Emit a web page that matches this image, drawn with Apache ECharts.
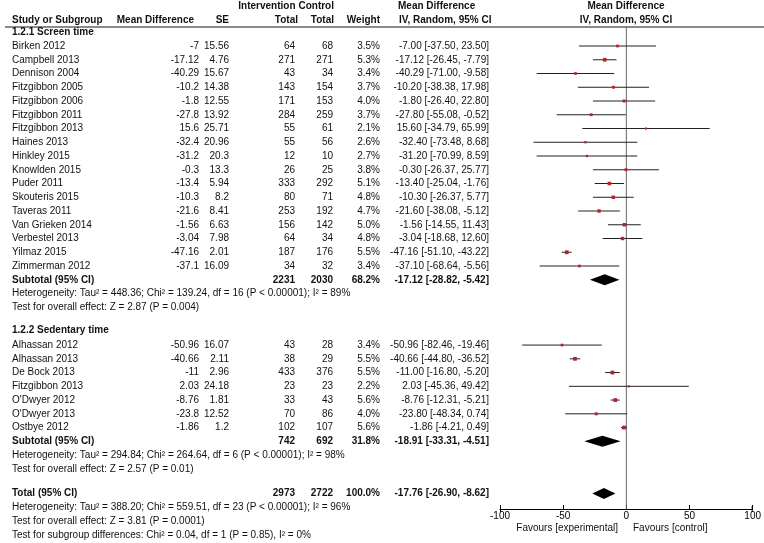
<!DOCTYPE html>
<html><head><meta charset="utf-8">
<script src="https://cdn.jsdelivr.net/npm/echarts@6/dist/echarts.min.js"></script>
<style>html,body{margin:0;padding:0;background:#fff}#c{width:764px;height:543px}</style>
</head><body><div id="c"></div>
<script>
// ---------- DATA ----------
const g1Name = '1.2.1 Screen time';
const g1Studies = ['Birken 2012','Campbell 2013','Dennison 2004','Fitzgibbon 2005','Fitzgibbon 2006','Fitzgibbon 2011','Fitzgibbon 2013','Haines 2013','Hinkley 2015','Knowlden 2015','Puder 2011','Skouteris 2015','Taveras 2011','Van Grieken 2014','Verbestel 2013','Yilmaz 2015','Zimmerman 2012'];
const g1MD = [-7,-17.12,-40.29,-10.2,-1.8,-27.8,15.6,-32.4,-31.2,-0.3,-13.4,-10.3,-21.6,-1.56,-3.04,-47.16,-37.1];
const g1SE = [15.56,4.76,15.67,14.38,12.55,13.92,25.71,20.96,20.3,13.3,5.94,8.2,8.41,6.63,7.98,2.01,16.09];
const g1NInt = [64,271,43,143,171,284,55,55,12,26,333,80,253,156,64,187,34];
const g1NCtl = [68,271,34,154,153,259,61,56,10,25,292,71,192,142,34,176,32];
const g1Weight = [3.5,5.3,3.4,3.7,4.0,3.7,2.1,2.6,2.7,3.8,5.1,4.8,4.7,5.0,4.8,5.5,3.4];
const g1Lo = [-37.50,-26.45,-71.00,-38.38,-26.40,-55.08,-34.79,-73.48,-70.99,-26.37,-25.04,-26.37,-38.08,-14.55,-18.68,-51.10,-68.64];
const g1Hi = [23.50,-7.79,-9.58,17.98,22.80,-0.52,65.99,8.68,8.59,25.77,-1.76,5.77,-5.12,11.43,12.60,-43.22,-5.56];
const g1SubTotals = [2231, 2030, 68.2];
const g1SubCI = [-17.12, -28.82, -5.42];
const g1Het = 'Heterogeneity: Tau\u00b2 = 448.36; Chi\u00b2 = 139.24, df = 16 (P < 0.00001); I\u00b2 = 89%';
const g1Test = 'Test for overall effect: Z = 2.87 (P = 0.004)';

const g2Name = '1.2.2 Sedentary time';
const g2Studies = ['Alhassan 2012','Alhassan 2013','De Bock 2013','Fitzgibbon 2013',"O'Dwyer 2012","O'Dwyer 2013",'Ostbye 2012'];
const g2MD = [-50.96,-40.66,-11,2.03,-8.76,-23.8,-1.86];
const g2SE = [16.07,2.11,2.96,24.18,1.81,12.52,1.2];
const g2NInt = [43,38,433,23,33,70,102];
const g2NCtl = [28,29,376,23,43,86,107];
const g2Weight = [3.4,5.5,5.5,2.2,5.6,4.0,5.6];
const g2Lo = [-82.46,-44.80,-16.80,-45.36,-12.31,-48.34,-4.21];
const g2Hi = [-19.46,-36.52,-5.20,49.42,-5.21,0.74,0.49];
const g2SubTotals = [742, 692, 31.8];
const g2SubCI = [-18.91, -33.31, -4.51];
const g2Het = 'Heterogeneity: Tau\u00b2 = 294.84; Chi\u00b2 = 264.64, df = 6 (P < 0.00001); I\u00b2 = 98%';
const g2Test = 'Test for overall effect: Z = 2.57 (P = 0.01)';

const totTotals = [2973, 2722, 100.0];
const totCI = [-17.76, -26.90, -8.62];
const totHet = 'Heterogeneity: Tau\u00b2 = 388.20; Chi\u00b2 = 559.51, df = 23 (P < 0.00001); I\u00b2 = 96%';
const totTest = 'Test for overall effect: Z = 3.81 (P = 0.0001)';
const subgroupTest = 'Test for subgroup differences: Chi\u00b2 = 0.04, df = 1 (P = 0.85), I\u00b2 = 0%';

const xTicks = [-100, -50, 0, 50, 100];
const favLeft = 'Favours [experimental]';
const favRight = 'Favours [control]';

// ---------- LAYOUT ----------
const ROW = 13.75, ROW0 = 32.25, H = 543;
const FONT = '"Liberation Sans", Arial, sans-serif';
const COL = {name: 12, md: 199, se: 229, ni: 295, nc: 333, w: 380, ci: 489};
const cells = [];   // text cells
const forest = [];  // [est, lo, hi, v, weight, kind]
function cell(x, v, text, align, bold, size) { cells.push({x, v, text, align: align || 'right', bold: !!bold, size: size || 10}); }
function ciText(e, l, h) { return e.toFixed(2) + ' [' + l.toFixed(2) + ', ' + h.toFixed(2) + ']'; }

// headers
const vH1 = (6 - ROW0) / ROW, vH2 = (20 - ROW0) / ROW, vLine = (27 - ROW0) / ROW;
cell(295.5, vH1, 'Intervention', 'right', true);
cell(334, vH1, 'Control', 'right', true);
cell(398, vH1, 'Mean Difference', 'left', true);
cell(626, vH1, 'Mean Difference', 'center', true);
cell(COL.name, vH2, 'Study or Subgroup', 'left', true);
cell(194, vH2, 'Mean Difference', 'right', true);
cell(229, vH2, 'SE', 'right', true);
cell(298, vH2, 'Total', 'right', true);
cell(334, vH2, 'Total', 'right', true);
cell(380, vH2, 'Weight', 'right', true);
cell(399, vH2, 'IV, Random, 95% CI', 'left', true);
cell(626, vH2, 'IV, Random, 95% CI', 'center', true);

let v = 0;
function group(name, st, md, se, ni, nc, w, lo, hi, subT, subCI, het, test, firstStep) {
  cell(COL.name, v, name, 'left', true);
  v += firstStep;
  for (let i = 0; i < st.length; i++) {
    cell(COL.name, v, st[i], 'left');
    cell(COL.md, v, String(md[i]));
    cell(COL.se, v, String(se[i]));
    cell(COL.ni, v, String(ni[i]));
    cell(COL.nc, v, String(nc[i]));
    cell(COL.w, v, w[i].toFixed(1) + '%');
    cell(COL.ci, v, ciText(md[i], lo[i], hi[i]));
    forest.push([md[i], lo[i], hi[i], v, w[i], 0]);
    v += 1;
  }
  cell(COL.name, v, 'Subtotal (95% CI)', 'left', true);
  cell(COL.ni, v, String(subT[0]), 'right', true);
  cell(COL.nc, v, String(subT[1]), 'right', true);
  cell(COL.w, v, subT[2].toFixed(1) + '%', 'right', true);
  cell(COL.ci, v, ciText(subCI[0], subCI[1], subCI[2]), 'right', true);
  forest.push([subCI[0], subCI[1], subCI[2], v, 0, 1]);
  v += 1; cell(COL.name, v, het, 'left');
  v += 1; cell(COL.name, v, test, 'left');
}
group(g1Name, g1Studies, g1MD, g1SE, g1NInt, g1NCtl, g1Weight, g1Lo, g1Hi, g1SubTotals, g1SubCI, g1Het, g1Test, 1);
v += 1.65;
group(g2Name, g2Studies, g2MD, g2SE, g2NInt, g2NCtl, g2Weight, g2Lo, g2Hi, g2SubTotals, g2SubCI, g2Het, g2Test, 1.1);
v += 1.8;
cell(COL.name, v, 'Total (95% CI)', 'left', true);
cell(COL.ni, v, String(totTotals[0]), 'right', true);
cell(COL.nc, v, String(totTotals[1]), 'right', true);
cell(COL.w, v, totTotals[2].toFixed(1) + '%', 'right', true);
cell(COL.ci, v, ciText(totCI[0], totCI[1], totCI[2]), 'right', true);
forest.push([totCI[0], totCI[1], totCI[2], v, 0, 1]);
v += 1; cell(COL.name, v, totHet, 'left');
v += 1; cell(COL.name, v, totTest, 'left');
v += 1; cell(COL.name, v, subgroupTest, 'left');

const fTop = 27, fBottom = 509;
const fMin = (fTop - ROW0) / ROW, fMax = (fBottom - ROW0) / ROW;

const chart = echarts.init(document.getElementById('c'), null, {renderer: 'canvas'});
chart.setOption({
  animation: false,
  backgroundColor: '#fff',
  grid: [
    {left: 0, top: 0, width: 764, height: H},
    {left: 500, top: fTop, width: 254, height: fBottom - fTop}
  ],
  xAxis: [
    {gridIndex: 0, type: 'value', min: 0, max: 764, show: false},
    {gridIndex: 1, type: 'value', min: xTicks[0], max: xTicks[xTicks.length - 1], interval: 50,
     splitLine: {show: false},
     axisLine: {show: true, onZero: false, lineStyle: {color: '#000', width: 1}},
     axisTick: {show: true, inside: true, length: 4, lineStyle: {color: '#000'}},
     axisLabel: {margin: 2, fontSize: 10, color: '#000', fontFamily: FONT}}
  ],
  yAxis: [
    {gridIndex: 0, type: 'value', inverse: true, min: -ROW0 / ROW, max: (H - ROW0) / ROW, show: false},
    {gridIndex: 1, type: 'value', inverse: true, min: fMin, max: fMax, show: false}
  ],
  series: [
    {
      type: 'custom', xAxisIndex: 0, yAxisIndex: 0, silent: true,
      data: [[0]],
      renderItem: function (params, api) {
        const a = api.coord([5, vLine]), b = api.coord([764, vLine]);
        return {type: 'line', shape: {x1: a[0], y1: a[1], x2: b[0], y2: b[1]}, style: {stroke: '#8a8a8a', lineWidth: 2}};
      }
    },
    {
      type: 'custom', xAxisIndex: 1, yAxisIndex: 1, silent: true,
      data: [[0]],
      renderItem: function (params, api) {
        const a = api.coord([0, fMin]), b = api.coord([0, fMax]);
        const l = api.coord([xTicks[0], fMax]), r = api.coord([xTicks[xTicks.length - 1], fMax]);
        return {type: 'group', children: [
          {type: 'line', shape: {x1: a[0], y1: a[1], x2: b[0], y2: b[1]}, style: {stroke: '#666', lineWidth: 1}},
          {type: 'line', shape: {x1: l[0] + 0.5, y1: l[1] - 3, x2: l[0] + 0.5, y2: l[1] + 3}, style: {stroke: '#000', lineWidth: 1}},
          {type: 'line', shape: {x1: r[0] - 0.5, y1: r[1] - 3, x2: r[0] - 0.5, y2: r[1] + 3}, style: {stroke: '#000', lineWidth: 1}}
        ]};
      }
    },
    {
      type: 'custom', xAxisIndex: 0, yAxisIndex: 0, silent: true,
      data: cells.map((c, i) => [c.x, c.v, i]),
      renderItem: function (params, api) {
        const c = cells[params.dataIndex];
        const p = api.coord([c.x, c.v]);
        return {type: 'text', x: p[0], y: p[1], style: {
          text: c.text, fill: '#111', fontSize: c.size, fontFamily: FONT,
          fontWeight: c.bold ? 'bold' : 'normal', align: c.align, verticalAlign: 'middle'}};
      }
    },
    {
      type: 'custom', xAxisIndex: 1, yAxisIndex: 1, silent: true, clip: false,
      data: forest,
      renderItem: function (params, api) {
        const est = api.value(0), lo = api.value(1), hi = api.value(2), vv = api.value(3), w = api.value(4), kind = api.value(5);
        const pe = api.coord([est, vv]), pl = api.coord([lo, vv]), ph = api.coord([hi, vv]);
        if (kind === 1) {
          const hh = 5.5;
          return {type: 'polygon', shape: {points: [[pl[0], pe[1]], [pe[0], pe[1] - hh], [ph[0], pe[1]], [pe[0], pe[1] + hh]]},
                  style: {fill: '#000'}};
        }
        const s = 1 + w * 0.5;
        return {type: 'group', children: [
          {type: 'line', shape: {x1: pl[0], y1: pe[1], x2: ph[0], y2: pe[1]}, style: {stroke: '#222', lineWidth: 1}},
          {type: 'rect', shape: {x: pe[0] - s / 2, y: pe[1] - s / 2, width: s, height: s}, style: {fill: '#b3242a'}}
        ]};
      }
    }
  ],
  graphic: [
    {type: 'text', x: 618, y: 528, style: {text: favLeft, fill: '#111', fontSize: 10, fontFamily: FONT, align: 'right', verticalAlign: 'middle'}},
    {type: 'text', x: 633, y: 528, style: {text: favRight, fill: '#111', fontSize: 10, fontFamily: FONT, align: 'left', verticalAlign: 'middle'}}
  ]
});
</script>
</body></html>
